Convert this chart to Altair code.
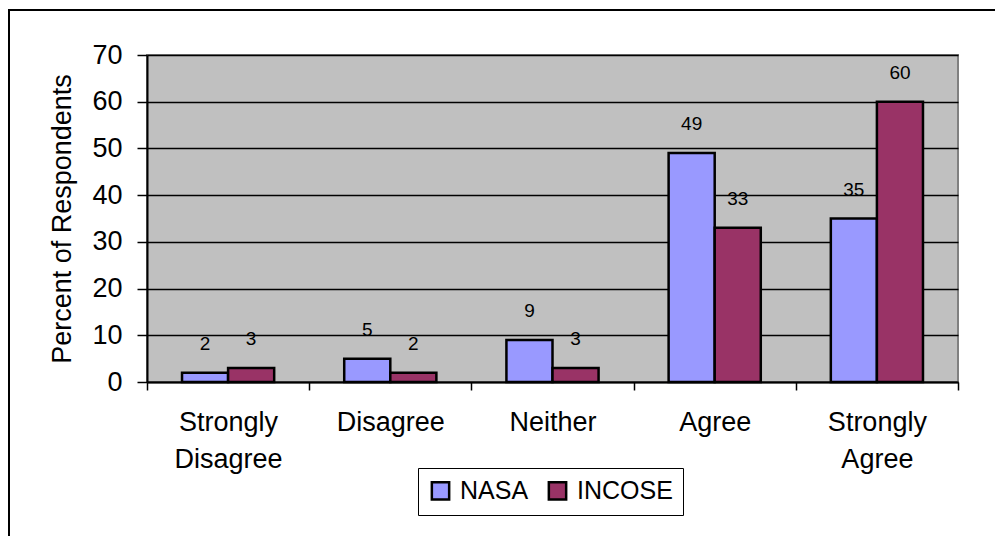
import altair as alt
import pandas as pd

categories = ["Strongly Disagree", "Disagree", "Neither", "Agree", "Strongly Agree"]
series = ["NASA", "INCOSE"]
nasa = [2, 5, 9, 49, 35]
incose = [3, 2, 3, 33, 60]
colors = ["#9999FF", "#993366"]

rows = []
for c, n, i in zip(categories, nasa, incose):
    rows.append({"Response": c, "Group": "NASA", "Percent": n})
    rows.append({"Response": c, "Group": "INCOSE", "Percent": i})
df = pd.DataFrame(rows)

W, H = 811, 327
FONT = "Liberation Sans, Arial, sans-serif"

x = alt.X(
    "Response:N",
    sort=categories,
    scale=alt.Scale(paddingInner=0, paddingOuter=0),
    axis=alt.Axis(
        title=None,
        labelExpr="split(datum.label, ' ')",
        labelFont=FONT,
        labelFontSize=27,
        labelColor="black",
        labelLineHeight=37,
        labelBaseline="top",
        labelPadding=19,
        labelAngle=0,
        tickBand="extent",
        tickSize=8,
        tickColor="black",
        tickWidth=1.5,
        domainColor="black",
        domainWidth=2,
    ),
)
xo = alt.XOffset("Group:N", sort=series, scale=alt.Scale(paddingInner=0, paddingOuter=0.76))
y = alt.Y(
    "Percent:Q",
    scale=alt.Scale(domain=[0, 70], nice=False),
    axis=alt.Axis(
        values=list(range(0, 71, 10)),
        title="Percent of Respondents",
        titleFont=FONT,
        titleFontSize=27,
        titleFontWeight="normal",
        titleColor="black",
        titleX=-85,
        titleY=H / 2,
        titleAngle=-90,
        titleAlign="center",
        titleBaseline="middle",
        labelFont=FONT,
        labelFontSize=27,
        labelColor="black",
        labelPadding=15,
        tickSize=10,
        tickColor="black",
        tickWidth=1.5,
        domainColor="black",
        domainWidth=2,
        grid=True,
        gridColor="black",
        gridWidth=1.5,
        gridOpacity=1,
    ),
)
color = alt.Color(
    "Group:N",
    sort=series,
    scale=alt.Scale(domain=series, range=colors),
    legend=alt.Legend(
        title=None,
        orient="none",
        legendX=271,
        legendY=413,
        direction="horizontal",
        strokeColor="black",
        fillColor="white",
        padding=10,
        symbolType="square",
        symbolSize=300,
        symbolStrokeColor="black",
        symbolStrokeWidth=2.5,
        symbolOpacity=1,
        labelFont=FONT,
        labelFontSize=25,
        labelColor="black",
        labelOffset=7,
        columnPadding=14,
    ),
)

base = alt.Chart(df)
bars = base.mark_bar(stroke="black", strokeWidth=2.5, opacity=1).encode(
    x=x, xOffset=xo, y=y, color=color
)
labels = base.mark_text(dy=-29, fontSize=19, font=FONT, color="black", baseline="middle").encode(
    x=x, xOffset=xo, y=y, text="Percent:Q"
)
frame = alt.Chart(pd.DataFrame({"f": [0]})).mark_rect(
    fillOpacity=0, stroke="black", strokeWidth=2
).encode(
    x=alt.value(-138), x2=alt.value(W + 300), y=alt.value(-45), y2=alt.value(H + 400)
)

chart = (
    alt.layer(frame, bars, labels)
    .properties(
        width=W,
        height=H,
        autosize=alt.AutoSizeParams(type="none"),
        padding={"left": 139, "top": 47, "right": 37, "bottom": 154},
        background="white",
    )
    .configure_view(fill="#C0C0C0", stroke="#808080", strokeWidth=2)
)

chart.save("out.html", embed_options={"renderer": "svg", "actions": False})
